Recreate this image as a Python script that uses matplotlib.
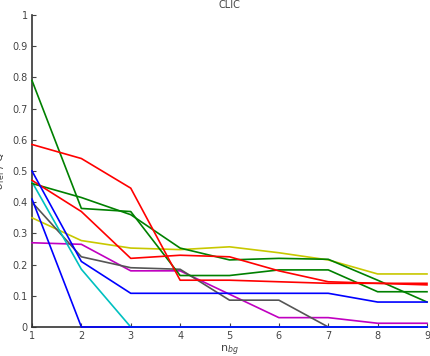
import matplotlib
matplotlib.use("Agg")
import matplotlib.pyplot as plt

# n_bg values and one curve per configuration
n_bg = [1, 2, 3, 4, 5, 6, 7, 8, 9]

green_a = [0.79, 0.38, 0.37, 0.165, 0.165, 0.183, 0.183, 0.113, 0.113]
green_b = [0.46, 0.415, 0.36, 0.253, 0.215, 0.22, 0.217, 0.15, 0.08]
red_a = [0.585, 0.54, 0.445, 0.15, 0.15, 0.145, 0.14, 0.14, 0.135]
red_b = [0.47, 0.37, 0.22, 0.23, 0.225, 0.18, 0.145, 0.14, 0.14]
blue_a = [0.5, 0.21, 0.108, 0.108, 0.108, 0.108, 0.108, 0.08, 0.08]
blue_b = [0.41, 0.0, 0.0, 0.0, 0.0, 0.0, 0.0, 0.0, 0.0]
cyan = [0.465, 0.185, 0.0, 0.0, 0.0, 0.0, 0.0, 0.0, 0.0]
yellow = [0.35, 0.277, 0.253, 0.248, 0.257, 0.238, 0.215, 0.17, 0.17]
magenta = [0.27, 0.265, 0.18, 0.18, 0.105, 0.03, 0.03, 0.012, 0.012]
gray = [0.4, 0.225, 0.19, 0.185, 0.086, 0.086, 0.0, 0.0, 0.0]

series = [
    (yellow, "#c8c800"),
    (magenta, "#c000c0"),
    (gray, "#555555"),
    (cyan, "#00c0c0"),
    (green_a, "#008000"),
    (green_b, "#008000"),
    (red_a, "#ff0000"),
    (red_b, "#ff0000"),
    (blue_a, "#0000ff"),
    (blue_b, "#0000ff"),
]

fig = plt.figure(figsize=(4.3, 3.56), dpi=100)
ax = fig.add_axes([32 / 430, 29 / 356, 395 / 430, 312 / 356])

for values, color in series:
    ax.plot(n_bg, values, color=color, linewidth=1.2, clip_on=False, zorder=3)

ax.set_xlim(1, 9)
ax.set_ylim(0, 1)
ax.set_xticks(n_bg)
ax.set_yticks([i / 10 for i in range(11)])
ax.set_yticklabels(["0", "0.1", "0.2", "0.3", "0.4", "0.5", "0.6", "0.7", "0.8", "0.9", "1"])
ax.spines["top"].set_visible(False)
ax.spines["right"].set_visible(False)
ax.spines["left"].set_color("#333333")
ax.spines["bottom"].set_color("#333333")
ax.spines["left"].set_linewidth(1.2)
ax.spines["bottom"].set_linewidth(1.2)
ax.tick_params(direction="in", length=3, labelsize=7, colors="#444444", pad=3)

ax.set_title("CLIC", fontsize=7, color="#444444", pad=5)
ax.set_xlabel("n$_{bg}$", fontsize=8, color="#444444", labelpad=2)
ax.set_ylabel(r"$\sigma_{\mathrm{rel}}$ / Q", fontsize=8, color="#444444", labelpad=4)

fig.savefig("out.png", dpi=100)
